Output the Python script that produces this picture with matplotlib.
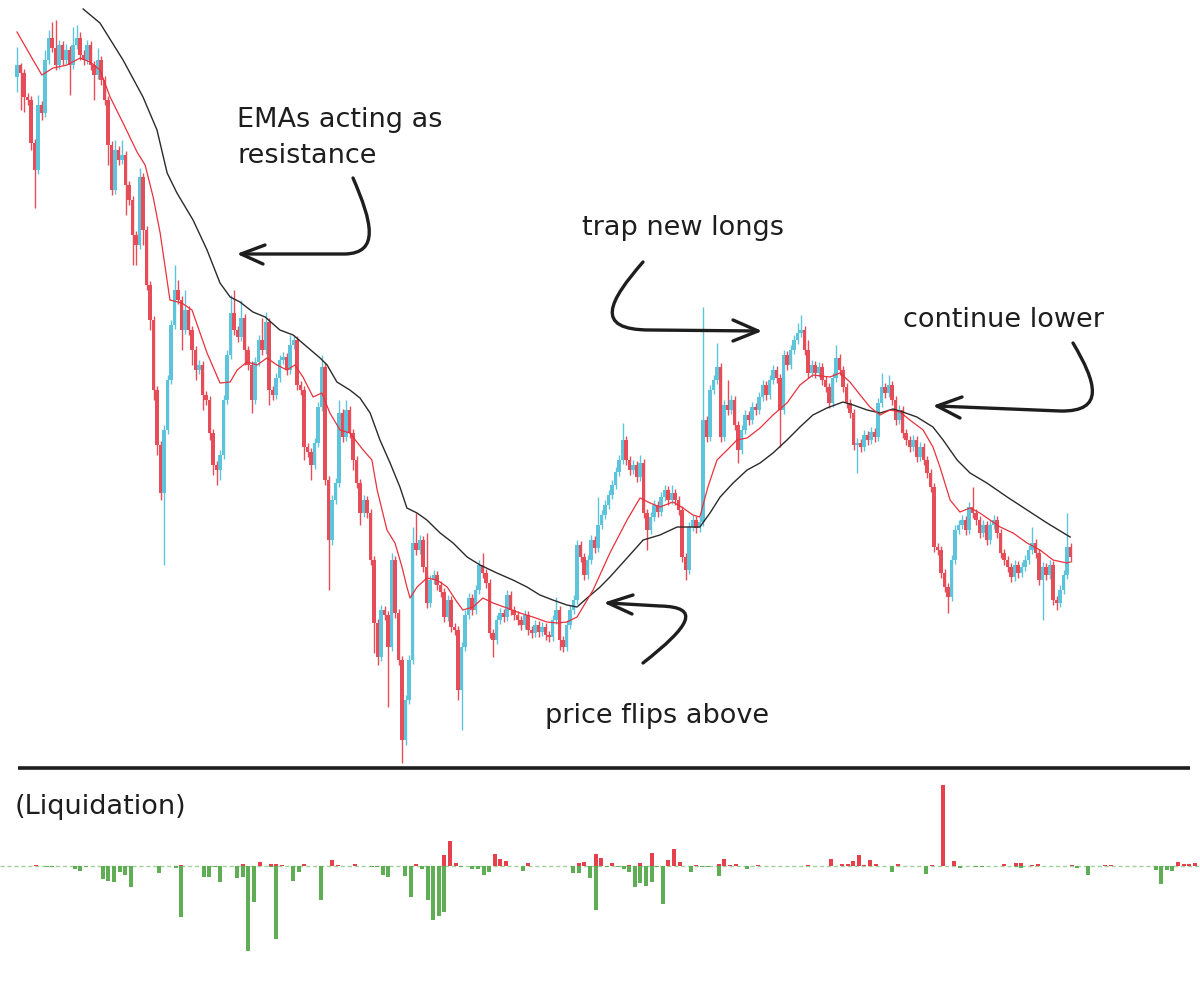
import numpy as np
import matplotlib
matplotlib.use("Agg")
import matplotlib.pyplot as plt
from matplotlib.path import Path
from matplotlib.patches import PathPatch

# %%
# candle data (arbitrary price units), one candle per session
first_open = 723
closes = [
    735, 727, 703, 700, 657, 630, 695, 687, 740, 762,
    752, 735, 755, 740, 750, 735, 755, 762, 745, 740,
    755, 735, 725, 740, 720, 700, 655, 610, 650, 640,
    645, 615, 600, 565, 555, 623, 570, 515, 480, 410,
    355, 307, 370, 420, 475, 510, 500, 470, 490, 470,
    450, 430, 435, 405, 400, 367, 335, 330, 345, 400,
    445, 487, 470, 463, 482, 450, 435, 400, 438, 460,
    450, 478, 410, 405, 422, 440, 443, 430, 455, 460,
    415, 410, 353, 348, 335, 357, 393, 433, 320, 260,
    300, 317, 387, 363, 390, 367, 340, 317, 287, 300,
    287, 240, 177, 143, 190, 185, 153, 240, 187, 140,
    60, 100, 140, 257, 250, 260, 233, 197, 220, 225,
    215, 208, 183, 200, 173, 170, 110, 153, 185, 202,
    190, 210, 235, 227, 217, 167, 160, 180, 187, 183,
    205, 190, 185, 180, 175, 185, 170, 167, 175, 168,
    173, 165, 163, 180, 190, 160, 153, 175, 190, 200,
    255, 243, 225, 240, 260, 252, 275, 285, 295, 305,
    315, 328, 340, 360, 340, 330, 335, 323, 337, 287,
    270, 283, 295, 288, 303, 310, 300, 307, 300, 290,
    243, 230, 273, 280, 272, 278, 380, 363, 410, 420,
    433, 363, 395, 390, 400, 375, 350, 370, 385, 380,
    393, 390, 403, 415, 405, 420, 430, 422, 390, 445,
    435, 450, 460, 467, 470, 450, 427, 435, 427, 433,
    420, 413, 397, 422, 442, 430, 413, 397, 387, 355,
    357, 353, 365, 360, 368, 363, 397, 413, 407, 415,
    400, 380, 390, 367, 360, 353, 360, 343, 353, 340,
    327, 313, 253, 250, 227, 213, 203, 240, 270, 275,
    280, 270, 293, 287, 280, 267, 275, 260, 275, 280,
    267, 247, 240, 233, 223, 235, 227, 233, 240, 250,
    257, 247, 220, 233, 225, 235, 200, 197, 210, 225,
    253, 243]

highs = [
    753, 737, 731, 707, 704, 661, 705, 699, 750, 770,
    778, 780, 760, 759, 756, 754, 773, 775, 768, 750,
    760, 759, 739, 752, 744, 724, 704, 659, 660, 654,
    660, 649, 619, 604, 569, 632, 627, 574, 519, 484,
    414, 359, 375, 425, 480, 535, 520, 504, 510, 494,
    474, 454, 440, 439, 409, 404, 371, 339, 350, 405,
    450, 505, 510, 474, 500, 486, 454, 439, 443, 465,
    482, 488, 482, 414, 427, 445, 448, 447, 465, 465,
    464, 419, 414, 357, 352, 362, 398, 445, 437, 324,
    305, 322, 400, 391, 400, 394, 371, 344, 321, 305,
    304, 291, 244, 181, 195, 194, 189, 247, 244, 191,
    144, 105, 145, 273, 287, 265, 264, 267, 225, 230,
    229, 219, 212, 205, 204, 177, 174, 158, 190, 207,
    206, 215, 240, 247, 231, 221, 171, 185, 192, 191,
    210, 209, 194, 189, 184, 190, 189, 174, 180, 179,
    178, 177, 169, 185, 203, 194, 164, 180, 195, 205,
    260, 259, 247, 245, 265, 264, 303, 290, 300, 310,
    320, 333, 345, 377, 364, 344, 340, 339, 345, 341,
    291, 288, 300, 299, 308, 315, 314, 315, 311, 304,
    294, 247, 278, 285, 284, 283, 493, 384, 415, 425,
    457, 437, 400, 420, 405, 404, 379, 375, 390, 389,
    398, 397, 408, 420, 419, 425, 435, 434, 426, 450,
    449, 455, 465, 477, 485, 474, 460, 440, 439, 438,
    437, 424, 417, 427, 455, 446, 434, 417, 401, 391,
    362, 361, 370, 369, 373, 372, 402, 427, 417, 425,
    419, 404, 395, 394, 371, 364, 365, 364, 358, 357,
    344, 331, 317, 257, 254, 231, 217, 245, 275, 280,
    285, 284, 298, 313, 291, 284, 280, 279, 280, 285,
    284, 271, 251, 244, 237, 240, 239, 238, 245, 255,
    273, 261, 251, 238, 237, 240, 239, 204, 215, 230,
    287, 257]

lows = [
    708, 690, 688, 695, 650, 592, 626, 680, 683, 736,
    748, 730, 731, 735, 736, 705, 731, 751, 740, 735,
    736, 730, 700, 721, 715, 695, 635, 605, 606, 635,
    636, 585, 595, 535, 535, 551, 555, 510, 470, 400,
    345, 300, 235, 366, 416, 471, 496, 450, 466, 465,
    435, 420, 426, 390, 395, 360, 325, 315, 320, 341,
    396, 441, 465, 458, 459, 435, 430, 387, 396, 434,
    445, 446, 395, 400, 401, 418, 436, 425, 426, 451,
    410, 405, 340, 343, 320, 331, 353, 389, 315, 210,
    255, 296, 313, 358, 359, 362, 330, 312, 275, 283,
    282, 235, 147, 135, 139, 180, 93, 149, 182, 135,
    37, 55, 96, 136, 245, 246, 228, 192, 193, 216,
    210, 203, 178, 179, 168, 165, 100, 70, 149, 181,
    185, 186, 206, 222, 212, 162, 143, 156, 176, 178,
    179, 185, 180, 175, 170, 171, 165, 162, 163, 163,
    164, 160, 158, 159, 176, 150, 148, 149, 171, 186,
    196, 238, 220, 221, 236, 247, 248, 271, 281, 291,
    301, 311, 324, 336, 335, 325, 326, 318, 319, 282,
    250, 266, 279, 283, 284, 299, 295, 296, 295, 285,
    238, 220, 226, 269, 267, 268, 274, 358, 359, 406,
    416, 358, 359, 385, 386, 370, 337, 346, 366, 375,
    376, 385, 386, 399, 400, 401, 416, 417, 353, 386,
    430, 431, 446, 456, 463, 445, 422, 423, 422, 423,
    415, 408, 392, 393, 418, 425, 408, 392, 382, 350,
    327, 348, 349, 355, 356, 358, 359, 393, 402, 403,
    395, 375, 376, 362, 355, 348, 349, 338, 339, 335,
    322, 308, 248, 245, 222, 208, 187, 199, 236, 266,
    271, 265, 266, 282, 275, 262, 263, 255, 256, 271,
    262, 242, 235, 228, 218, 219, 222, 223, 229, 236,
    246, 242, 215, 180, 220, 221, 195, 190, 193, 206,
    221, 238]

# EMA lines (candle index, value)
ema_slow_x = [18.9, 23.7, 30.3, 36.0, 40.0, 42.9, 45.7, 50.3, 54.3, 58.0,
              60.9, 63.7, 67.4, 70.9, 75.1, 78.9, 82.9, 86.6, 88.6, 91.4,
              95.1, 98.0, 100.9, 103.7, 106.6, 109.4, 111.4, 114.3, 117.1, 120.9,
              124.6, 128.6, 132.3, 137.1, 141.7, 145.7, 149.4, 153.1, 157.1, 160.0,
              162.9, 166.6, 169.4, 174.3, 178.9, 183.7, 188.6, 195.1, 198.0, 200.9,
              204.6, 208.6, 212.3, 216.0, 220.0, 223.7, 227.4, 231.4, 236.0, 238.9,
              242.9, 246.6, 250.3, 253.1, 257.1, 261.7, 264.6, 268.6, 272.3, 277.1,
              282.9, 288.6, 294.3, 300.9]
ema_slow_v = [791, 777, 740, 703, 670, 627, 607, 580, 550, 517,
              503, 498, 488, 483, 470, 465, 453, 442, 435, 418,
              410, 402, 387, 360, 337, 313, 292, 287, 280, 267,
              257, 243, 235, 227, 220, 213, 205, 200, 195, 193,
              202, 213, 223, 242, 260, 265, 273, 273, 287, 303,
              317, 330, 337, 347, 360, 373, 385, 392, 398, 395,
              390, 387, 391, 388, 383, 373, 360, 340, 327, 317,
              303, 290, 277, 263]

ema_fast_x = [0.0, 4.6, 7.1, 10.3, 14.3, 18.0, 20.9, 23.7, 26.6, 30.3,
              34.3, 36.6, 38.9, 40.9, 43.7, 47.1, 50.0, 54.3, 58.0, 60.9,
              62.9, 65.7, 68.6, 71.4, 74.3, 77.1, 79.4, 81.7, 84.6, 87.1,
              89.4, 92.3, 95.1, 98.9, 101.4, 102.9, 105.7, 108.0, 110.0, 111.4,
              112.3, 114.3, 117.1, 120.0, 122.9, 125.7, 127.4, 130.3, 133.1, 136.0,
              140.0, 143.7, 147.4, 151.4, 154.3, 157.1, 160.0, 162.9, 164.6, 169.4,
              174.3, 178.0, 180.9, 183.7, 187.4, 190.3, 193.1, 195.1, 197.4, 200.0,
              202.9, 205.7, 208.6, 212.3, 216.0, 220.0, 223.7, 227.4, 232.3, 235.1,
              238.0, 240.9, 243.7, 246.6, 249.4, 252.3, 255.1, 258.9, 261.7, 263.7,
              266.6, 269.4, 272.3, 275.1, 278.0, 280.9, 284.6, 288.6, 292.3, 296.0,
              300.0, 300.9]
ema_fast_v = [768, 740, 725, 732, 735, 742, 738, 730, 703, 677,
              648, 635, 603, 567, 500, 497, 490, 447, 417, 418,
              430, 438, 435, 442, 435, 430, 435, 423, 403, 407,
              387, 370, 367, 350, 340, 310, 270, 257, 233, 213,
              202, 213, 222, 220, 213, 198, 190, 193, 202, 197,
              192, 187, 183, 178, 177, 178, 183, 200, 210, 247,
              280, 302, 297, 293, 298, 292, 285, 283, 313, 340,
              350, 360, 362, 372, 385, 397, 415, 425, 423, 427,
              418, 405, 393, 385, 390, 388, 380, 370, 353, 333,
              300, 288, 292, 287, 280, 273, 267, 257, 250, 240,
              237, 238]

# liquidations: long (green, below zero) and short (red, above zero)
long_idx = [8, 9, 13, 14, 15, 18, 19, 20, 21, 22, 23, 28, 31, 32, 36, 37, 38, 39,
            42, 43, 44, 45, 48, 49, 52, 53, 57, 66, 67, 68, 69, 72, 73, 75, 76, 77,
            78, 79, 82, 84, 85, 86, 87, 93, 102, 103, 105, 106, 108, 110, 111, 112,
            113, 114, 115, 116, 117, 118, 123, 125, 126, 128, 133, 159, 165, 171,
            174, 175, 181, 182, 192, 194, 206, 207, 208, 209]
long_val = [1, 1, 3, 5, 1, 13, 15, 16, 6, 9, 21, 7, 2, 51, 11, 11, 1, 16,
            12, 11, 85, 36, 1, 73, 15, 6, 34, 1, 1, 9, 11, 10, 31, 3, 34, 54,
            50, 46, 1, 3, 3, 9, 6, 5, 7, 7, 12, 44, 1, 1, 3, 6,
            21, 17, 20, 16, 1, 38, 6, 1, 1, 10, 3, 6, 8, 2,
            1, 1, 1, 2, 2, 9, 4, 18, 4, 5]
short_idx = [6, 32, 43, 46, 48, 49, 50, 54, 59, 60, 63, 74, 79, 80, 81, 88, 89, 90,
             94, 103, 104, 106, 107, 109, 112, 114, 116, 119, 120, 121, 124, 128, 129,
             130, 131, 135, 144, 148, 150, 151, 152, 153, 154, 155, 156, 160, 166, 168,
             170, 179, 181, 182, 184, 185, 191, 197, 198, 210, 211, 212, 213]
short_val = [1, 1.5, 2, 4, 2, 2, 1.5, 2, 6, 1, 2, 2, 11, 25, 3, 12, 7, 5,
             3, 3, 4, 12, 8, 3, 1, 3, 13, 6, 17, 4, 1, 2, 7,
             1, 2, 1, 1, 7, 2, 2, 5, 11, 1, 6, 2, 2, 1, 81,
             5, 2, 3, 3, 1, 2, 1, 1, 1, 4, 2, 2, 3]

labels = {
    "ema": ("EMAs acting as", "resistance"),
    "trap": "trap new longs",
    "cont": "continue lower",
    "flip": "price flips above",
    "liq": "(Liquidation)",
}

# %%
UP = '#5ec4dc'
DOWN = '#e64d58'
INK = '#1e1e1e'
W, H = 1200, 996

fig = plt.figure(figsize=(12, 9.96), dpi=100, facecolor='white')


def px_axes(x0, y0, x1, y1):
    # axes placed with pixel coords (top-left origin)
    return fig.add_axes([x0 / W, 1 - y1 / H, (x1 - x0) / W, (y1 - y0) / H])


# ---- price panel ----
ax = px_axes(0, 0, 1200, 770)
c = np.array(closes, dtype=float)
o = np.concatenate([[first_open], c[:-1]])
idx = np.arange(len(c))
col = np.where(c >= o, UP, DOWN)

ax.vlines(idx, lows, highs, colors=col, lw=1.0, zorder=2)
body_lo = np.minimum(o, c)
body_h = np.maximum(np.abs(c - o), 1.2)
ax.bar(idx, body_h, bottom=body_lo, width=0.86, color=col, linewidth=0, zorder=3)

ax.plot(ema_slow_x, ema_slow_v, color='#2b2b2b', lw=1.0, zorder=4)
ax.plot(ema_fast_x, ema_fast_v, color='#e8323d', lw=0.9, zorder=4)

ax.set_xlim(-17 / 3.5, (1200 - 17) / 3.5)
ax.set_ylim(30, 800)
ax.axis('off')

# ---- liquidation panel ----
axl = px_axes(0, 780, 1200, 996)
axl.bar(long_idx, -np.array(long_val, dtype=float), width=0.72, color='#5fae55', linewidth=0, zorder=3)
axl.bar(short_idx, short_val, width=0.72, color='#e5404c', linewidth=0, zorder=3)
axl.axhline(0, color='#9fd39a', lw=1.0, ls=(0, (3, 2)), zorder=2)
axl.set_xlim(-2 / 5.6, 1198 / 5.6)
axl.set_ylim(-130, 86)
axl.axis('off')

# ---- annotation layer (pixel coords) ----
an = px_axes(0, 0, 1200, 996)
an.set_xlim(0, W)
an.set_ylim(H, 0)
an.axis('off')
an.patch.set_alpha(0)

an.plot([18, 1190], [768, 768], color=INK, lw=2.6, solid_capstyle='butt')


def sketch_arrow(p0, p1, p2, p3, tip, arm1, arm2):
    verts = [p0, p1, p2, p3, tip]
    codes = [Path.MOVETO, Path.CURVE4, Path.CURVE4, Path.CURVE4, Path.LINETO]
    an.add_patch(PathPatch(Path(verts, codes), fill=False, ec=INK, lw=2.4,
                           capstyle='round', joinstyle='round'))
    an.plot([arm1[0], tip[0], arm2[0]], [arm1[1], tip[1], arm2[1]],
            color=INK, lw=2.4, solid_capstyle='round', solid_joinstyle='round')


sketch_arrow((353, 178), (372, 222), (380, 253), (345, 254), (241, 254), (265, 245), (263, 264))
sketch_arrow((643, 262), (610, 300), (592, 330), (650, 330), (758, 331), (733, 320), (733, 341))
sketch_arrow((1073, 343), (1096, 382), (1106, 412), (1060, 411), (937, 406), (962, 397), (960, 418))
sketch_arrow((643, 663), (690, 626), (702, 607), (660, 606), (608, 603), (633, 595), (632, 614))

fs = 19.5
tkw = dict(fontsize=fs, color=INK, ha='left', va='baseline', family='DejaVu Sans')
an.text(237, 127, labels["ema"][0], **tkw)
an.text(237, 163, labels["ema"][1], **tkw)
an.text(582, 235, labels["trap"], **tkw)
an.text(903, 327, labels["cont"], **tkw)
an.text(545, 723, labels["flip"], **tkw)
an.text(15, 814, labels["liq"], **tkw)

fig.savefig('out.png', dpi=100, facecolor='white')
